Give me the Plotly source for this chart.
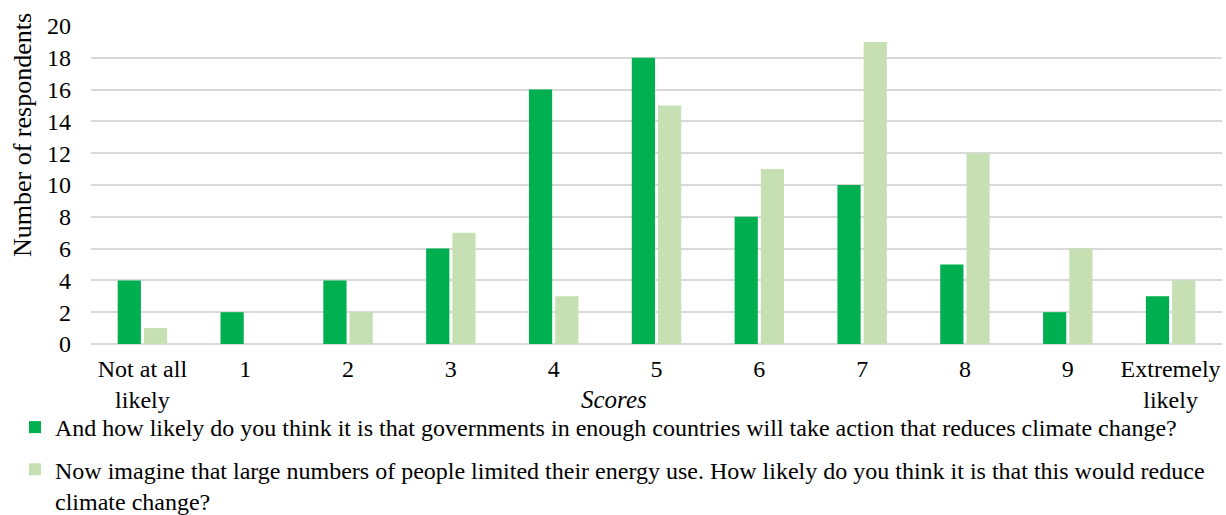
import plotly.graph_objects as go

categories = ["Not at all<br>likely", "1", "2", "3", "4", "5", "6", "7", "8", "9", "Extremely<br>likely"]
governments = [4, 2, 4, 6, 16, 18, 8, 10, 5, 2, 3]
people = [1, 0, 2, 7, 3, 15, 11, 19, 12, 6, 4]

name_gov = "And how likely do you think it is that governments in enough countries will take action that reduces climate change?"
name_people = ("Now imagine that large numbers of people limited their energy use. How likely do you think it is that this would reduce"
               "<br>climate change?")

FONT = "Liberation Serif, Times New Roman, serif"

# plot area in pixels
L, R, T, B = 91, 4, 26, 171
W, H = 1226, 515
PW, PH = W - L - R, H - T - B

fig = go.Figure()
fig.add_trace(go.Bar(x=categories, y=governments, name=name_gov,
                     marker=dict(color="#00B050", line=dict(width=0)),
                     legendgroup="a"))
fig.add_trace(go.Bar(x=categories, y=people, name=name_people,
                     marker=dict(color="#C6E0B4", line=dict(width=0)),
                     legendgroup="b"))

fig.update_layout(
    width=W, height=H,
    margin=dict(l=L, r=R, t=T, b=B, autoexpand=False),
    paper_bgcolor="white", plot_bgcolor="white",
    font=dict(family=FONT, size=24, color="black"),
    barmode="group", bargap=0.49, bargroupgap=0.115,
    showlegend=True,
    legend=dict(
        xref="container", yref="container",
        x=15 / W, y=1 - 405 / H,
        xanchor="left", yanchor="top",
        font=dict(family=FONT, size=24, color="black"),
        valign="top", tracegroupgap=8,
        itemwidth=30, bgcolor="rgba(0,0,0,0)",
    ),
    annotations=[
        dict(text="<i>Scores</i>", xref="paper", yref="paper",
             x=(614 - L) / PW, y=(H - B - 399) / PH,
             xanchor="center", yanchor="middle", showarrow=False,
             font=dict(family=FONT, size=25, color="black")),
        dict(text="Number of respondents", xref="paper", yref="paper",
             x=(22 - L) / PW, y=(H - B - 135) / PH, textangle=-90,
             xanchor="center", yanchor="middle", showarrow=False,
             font=dict(family=FONT, size=26, color="black")),
    ],
)

fig.update_xaxes(
    type="category", showgrid=False, showline=False, zeroline=False,
    tickfont=dict(family=FONT, size=24, color="black"),
    ticks="", ticklabelstandoff=8, tickangle=0,
)
fig.update_yaxes(
    range=[0, 20], dtick=2, showgrid=True, gridcolor="#D9D9D9", gridwidth=2,
    zeroline=True, zerolinecolor="#D9D9D9", zerolinewidth=2, showline=False,
    tickfont=dict(family=FONT, size=24, color="black"),
    ticks="", ticklabelstandoff=19,
)

fig.write_html("out.html")
